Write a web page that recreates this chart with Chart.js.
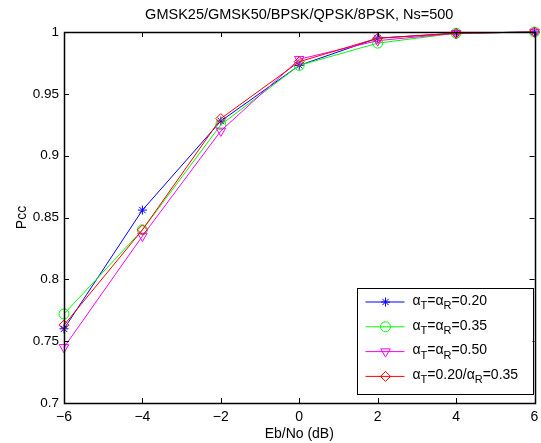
<!DOCTYPE html>
<html>
<head>
<meta charset="utf-8">
<script src="https://cdn.jsdelivr.net/npm/chart.js@4/dist/chart.umd.min.js"></script>
<style>
  html, body { margin: 0; padding: 0; background: #fff; }
</style>
</head>
<body>
<canvas id="pccChart" width="541" height="443"></canvas>
<script>
const ebNo = [-6, -4, -2, 0, 2, 4, 6];
const pcc020 = [0.760, 0.856, 0.928, 0.973, 0.995, 0.999, 1.000];
const pcc035 = [0.772, 0.840, 0.925, 0.973, 0.991, 0.999, 1.000];
const pcc050 = [0.745, 0.835, 0.920, 0.978, 0.993, 0.999, 1.000];
const pccMixed = [0.763, 0.840, 0.930, 0.976, 0.995, 0.999, 1.000];
const seriesLabels = ["α_T=α_R=0.20", "α_T=α_R=0.35", "α_T=α_R=0.50", "α_T=0.20/α_R=0.35"];
const xTicks = [-6, -4, -2, 0, 2, 4, 6];
const yTicks = [0.7, 0.75, 0.8, 0.85, 0.9, 0.95, 1];
const chartTitle = "GMSK25/GMSK50/BPSK/QPSK/8PSK, Ns=500";

const FONT = "'Liberation Sans', Arial, Helvetica, sans-serif";

function makeSet(label, values, color, style, radius, rotation, order) {
  return {
    label,
    data: ebNo.map((x, i) => ({ x, y: values[i] })),
    borderColor: color,
    backgroundColor: "rgba(0,0,0,0)",
    borderWidth: 1,
    pointStyle: style,
    pointRadius: radius,
    pointRotation: rotation,
    pointBorderWidth: 1,
    pointBorderColor: color,
    pointBackgroundColor: "rgba(0,0,0,0)",
    tension: 0,
    clip: false,
    order
  };
}

// matlab style box with inward ticks, title centred over the axes
const frameTicks = {
  id: "frameTicks",
  afterDraw(chart) {
    const { ctx, chartArea: a, scales } = chart;
    ctx.save();
    ctx.strokeStyle = "#000";
    ctx.lineWidth = 1;
    ctx.beginPath();
    xTicks.forEach(v => {
      const px = Math.round(scales.x.getPixelForValue(v)) + 0.5;
      ctx.moveTo(px, a.bottom); ctx.lineTo(px, a.bottom - 5);
      ctx.moveTo(px, a.top); ctx.lineTo(px, a.top + 5);
    });
    yTicks.forEach(v => {
      const py = Math.round(scales.y.getPixelForValue(v)) + 0.5;
      ctx.moveTo(a.left, py); ctx.lineTo(a.left + 5, py);
      ctx.moveTo(a.right, py); ctx.lineTo(a.right - 5, py);
    });
    ctx.stroke();
    ctx.lineWidth = 1.5;
    ctx.strokeRect(Math.round(a.left) + 0.5, Math.round(a.top) + 0.5,
      Math.round(a.right - a.left), Math.round(a.bottom - a.top));

    ctx.fillStyle = "#000";
    ctx.font = "14.5px " + FONT;
    ctx.textAlign = "center";
    ctx.textBaseline = "middle";
    ctx.fillText(chartTitle, (a.left + a.right) / 2, 15);
    ctx.restore();
  }
};

function drawSubText(ctx, text, x, y) {
  let cx = x;
  for (let i = 0; i < text.length; i++) {
    const ch = text[i];
    if (ch === "_" && i + 1 < text.length) {
      ctx.font = "11px " + FONT;
      ctx.fillText(text[i + 1], cx, y + 5);
      cx += ctx.measureText(text[i + 1]).width;
      i++;
    } else {
      ctx.font = "14px " + FONT;
      ctx.fillText(ch, cx, y);
      cx += ctx.measureText(ch).width;
    }
  }
}

const boxLegend = {
  id: "boxLegend",
  afterDraw(chart) {
    const { ctx, chartArea: a } = chart;
    const w = 176, h = 106;
    const x0 = a.right - 2 - w, y0 = a.bottom - 9 - h;
    ctx.save();
    ctx.fillStyle = "#fff";
    ctx.fillRect(x0, y0, w, h);
    ctx.strokeStyle = "#000";
    ctx.lineWidth = 1;
    ctx.strokeRect(Math.round(x0) + 0.5, Math.round(y0) + 0.5, w, h);
    chart.data.datasets.forEach((ds, i) => {
      const y = y0 + 14 + i * 24.8;
      ctx.strokeStyle = ds.borderColor;
      ctx.lineWidth = 1;
      ctx.beginPath();
      ctx.moveTo(x0 + 9, y); ctx.lineTo(x0 + 48, y);
      ctx.stroke();
      ctx.fillStyle = "rgba(0,0,0,0)";
      Chart.helpers.drawPoint(ctx, {
        pointStyle: ds.pointStyle, radius: ds.pointRadius,
        rotation: ds.pointRotation, borderWidth: 1
      }, x0 + 29, y);
      ctx.fillStyle = "#000";
      ctx.textBaseline = "middle";
      ctx.textAlign = "left";
      drawSubText(ctx, ds.label, x0 + 56, y - 1);
    });
    ctx.restore();
  }
};

new Chart(document.getElementById("pccChart"), {
  type: "line",
  data: {
    datasets: [
      makeSet(seriesLabels[0], pcc020, "#0000ff", "star", 4.5, 0, 4),
      makeSet(seriesLabels[1], pcc035, "#00ff00", "circle", 5, 0, 3),
      makeSet(seriesLabels[2], pcc050, "#ff00ff", "triangle", 5.5, 180, 2),
      makeSet(seriesLabels[3], pccMixed, "#ff0000", "rectRot", 5, 0, 1)
    ]
  },
  options: {
    responsive: false,
    animation: false,
    devicePixelRatio: 1,
    layout: { padding: { top: 32, right: 6, left: 0, bottom: 0 } },
    plugins: {
      legend: { display: false },
      tooltip: { enabled: false },
      title: { display: false }
    },
    scales: {
      x: {
        type: "linear",
        min: -6, max: 6,
        afterBuildTicks: s => { s.ticks = xTicks.map(v => ({ value: v })); },
        afterFit: s => { s.height = 40; s.paddingLeft = 0; s.paddingRight = 0; },
        grid: { display: false, drawTicks: false },
        border: { display: false },
        ticks: {
          color: "#000", padding: 6,
          font: { family: FONT, size: 14 },
          callback: v => (v < 0 ? "\u2212" + Math.abs(v) : String(v))
        },
        title: {
          display: true, text: "Eb/No (dB)", color: "#000",
          font: { family: FONT, size: 14 }, padding: { top: 2, bottom: 0 }
        }
      },
      y: {
        type: "linear",
        min: 0.7, max: 1,
        afterBuildTicks: s => { s.ticks = yTicks.map(v => ({ value: v })); },
        afterFit: s => { s.width = 64; s.paddingTop = 0; s.paddingBottom = 0; },
        grid: { display: false, drawTicks: false },
        border: { display: false },
        ticks: {
          color: "#000", padding: 5,
          font: { family: FONT, size: 13.5 },
          callback: v => String(Math.round(v * 100) / 100)
        },
        title: {
          display: true, text: "Pcc", color: "#000",
          font: { family: FONT, size: 14 }, padding: { top: 14, bottom: 4 }
        }
      }
    }
  },
  plugins: [frameTicks, boxLegend]
});
</script>
</body>
</html>
